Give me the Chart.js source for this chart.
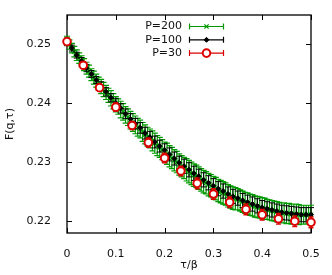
<!DOCTYPE html>
<html>
<head>
<meta charset="utf-8">
<script src="https://cdn.jsdelivr.net/npm/chart.js@4/dist/chart.umd.min.js"></script>
<style>
  html, body { margin: 0; padding: 0; background: #fff; }
</style>
</head>
<body>
<canvas id="c" width="332" height="275"></canvas>
<script>
const xTicks = [0, 0.1, 0.2, 0.3, 0.4, 0.5];
const xTickLabels = ['0', '0.1', '0.2', '0.3', '0.4', '0.5'];
const yTicks = [0.22, 0.23, 0.24, 0.25];
const yTickLabels = ['0.22', '0.23', '0.24', '0.25'];
const seriesNames = ['P=200', 'P=100', 'P=30'];

// P=200, tau/beta grid
const tau200 = [
  0, 0.005, 0.01, 0.015, 0.02, 0.025, 0.03, 0.035, 0.04, 0.045,
  0.05, 0.055, 0.06, 0.065, 0.07, 0.075, 0.08, 0.085, 0.09, 0.095,
  0.1, 0.105, 0.11, 0.115, 0.12, 0.125, 0.13, 0.135, 0.14, 0.145,
  0.15, 0.155, 0.16, 0.165, 0.17, 0.175, 0.18, 0.185, 0.19, 0.195,
  0.2, 0.205, 0.21, 0.215, 0.22, 0.225, 0.23, 0.235, 0.24, 0.245,
  0.25, 0.255, 0.26, 0.265, 0.27, 0.275, 0.28, 0.285, 0.29, 0.295,
  0.3, 0.305, 0.31, 0.315, 0.32, 0.325, 0.33, 0.335, 0.34, 0.345,
  0.35, 0.355, 0.36, 0.365, 0.37, 0.375, 0.38, 0.385, 0.39, 0.395,
  0.4, 0.405, 0.41, 0.415, 0.42, 0.425, 0.43, 0.435, 0.44, 0.445,
  0.45, 0.455, 0.46, 0.465, 0.47, 0.475, 0.48, 0.485, 0.49, 0.495,
  0.5
];
const f200 = [
  0.2505, 0.2499, 0.2493, 0.2487, 0.2481, 0.2476, 0.2471, 0.2465, 0.2459, 0.2454,
  0.2448, 0.2443, 0.2438, 0.2433, 0.2428, 0.2423, 0.2418, 0.2413, 0.2408, 0.2403,
  0.2398, 0.2394, 0.2389, 0.2385, 0.2380, 0.2376, 0.2371, 0.2367, 0.2363, 0.2359,
  0.2356, 0.2351, 0.2347, 0.2343, 0.2340, 0.2336, 0.2332, 0.2328, 0.2325, 0.2321,
  0.2317, 0.2314, 0.2310, 0.2307, 0.2303, 0.2300, 0.2296, 0.2293, 0.2290, 0.2287,
  0.2284, 0.2281, 0.2278, 0.2276, 0.2273, 0.2270, 0.2267, 0.2265, 0.2262, 0.2260,
  0.2257, 0.2255, 0.2252, 0.2250, 0.2248, 0.2246, 0.2243, 0.2241, 0.2239, 0.2238,
  0.2237, 0.2235, 0.2233, 0.2231, 0.2230, 0.2228, 0.2227, 0.2225, 0.2224, 0.2223,
  0.2222, 0.2221, 0.2220, 0.2219, 0.2218, 0.2217, 0.2216, 0.2215, 0.2214, 0.2214,
  0.2213, 0.2213, 0.2212, 0.2212, 0.2212, 0.2211, 0.2211, 0.2211, 0.2211, 0.2211,
  0.2211
];
const e200 = [
  0.0008, 0.0008, 0.0008, 0.0009, 0.0009, 0.0009, 0.0009, 0.0010, 0.0010, 0.0010,
  0.0010, 0.0011, 0.0011, 0.0011, 0.0012, 0.0012, 0.0012, 0.0012, 0.0013, 0.0013,
  0.0013, 0.0013, 0.0014, 0.0014, 0.0014, 0.0014, 0.0015, 0.0015, 0.0015, 0.0015,
  0.0015, 0.0016, 0.0016, 0.0016, 0.0016, 0.0017, 0.0017, 0.0017, 0.0017, 0.0017,
  0.0017, 0.0018, 0.0018, 0.0018, 0.0018, 0.0018, 0.0018, 0.0018, 0.0018, 0.0019,
  0.0019, 0.0019, 0.0019, 0.0019, 0.0019, 0.0019, 0.0019, 0.0019, 0.0019, 0.0019,
  0.0019, 0.0019, 0.0019, 0.0019, 0.0019, 0.0019, 0.0019, 0.0019, 0.0019, 0.0019,
  0.0018, 0.0018, 0.0018, 0.0018, 0.0018, 0.0018, 0.0018, 0.0018, 0.0018, 0.0018,
  0.0018, 0.0018, 0.0017, 0.0017, 0.0017, 0.0017, 0.0017, 0.0017, 0.0017, 0.0017,
  0.0017, 0.0017, 0.0017, 0.0017, 0.0017, 0.0017, 0.0016, 0.0016, 0.0016, 0.0016,
  0.0016
];

// P=100
const tau100 = [
  0, 0.01, 0.02, 0.03, 0.04, 0.05, 0.06, 0.07, 0.08, 0.09,
  0.1, 0.11, 0.12, 0.13, 0.14, 0.15, 0.16, 0.17, 0.18, 0.19,
  0.2, 0.21, 0.22, 0.23, 0.24, 0.25, 0.26, 0.27, 0.28, 0.29,
  0.3, 0.31, 0.32, 0.33, 0.34, 0.35, 0.36, 0.37, 0.38, 0.39,
  0.4, 0.41, 0.42, 0.43, 0.44, 0.45, 0.46, 0.47, 0.48, 0.49,
  0.5
];
const f100 = [
  0.2505, 0.2493, 0.2481, 0.2471, 0.2459, 0.2449, 0.2439, 0.2429, 0.2419, 0.2409,
  0.2400, 0.2391, 0.2382, 0.2373, 0.2365, 0.2358, 0.2349, 0.2342, 0.2334, 0.2327,
  0.2320, 0.2313, 0.2306, 0.2299, 0.2293, 0.2287, 0.2281, 0.2276, 0.2270, 0.2265,
  0.2260, 0.2255, 0.2251, 0.2246, 0.2242, 0.2239, 0.2235, 0.2232, 0.2229, 0.2226,
  0.2223, 0.2221, 0.2219, 0.2217, 0.2215, 0.2214, 0.2213, 0.2212, 0.2211, 0.2211,
  0.2211
];
const e100 = [
  0.0005, 0.0005, 0.0005, 0.0006, 0.0006, 0.0006, 0.0006, 0.0007, 0.0007, 0.0007,
  0.0008, 0.0008, 0.0008, 0.0009, 0.0009, 0.0009, 0.0010, 0.0010, 0.0010, 0.0010,
  0.0011, 0.0011, 0.0011, 0.0011, 0.0012, 0.0012, 0.0012, 0.0012, 0.0012, 0.0012,
  0.0012, 0.0012, 0.0012, 0.0012, 0.0012, 0.0012, 0.0012, 0.0012, 0.0012, 0.0012,
  0.0012, 0.0012, 0.0012, 0.0012, 0.0012, 0.0012, 0.0012, 0.0012, 0.0012, 0.0012,
  0.0012
];

// P=30
const tau30 = [0, 0.0333, 0.0667, 0.1, 0.1333, 0.1667, 0.2, 0.2333, 0.2667, 0.3, 0.3333, 0.3667, 0.4, 0.4333, 0.4667, 0.5];
const f30 = [0.2504, 0.2464, 0.2426, 0.2393, 0.2362, 0.2333, 0.2307, 0.2285, 0.2264, 0.2246, 0.2232, 0.2220, 0.2211, 0.2204, 0.2200, 0.2198];
const e30 = [0.0005, 0.0006, 0.0006, 0.0007, 0.0007, 0.0008, 0.0008, 0.0008, 0.0009, 0.0009, 0.0009, 0.0009, 0.0009, 0.0009, 0.0009, 0.0009];

const FONT = { family: 'DejaVu Sans', size: 11 };
const GREEN = '#009a00', BLACK = '#000000', RED = '#dd0000';

const pts = (xs, ys, es) => xs.map((x, i) => ({ x, y: ys[i], e: es[i] }));

// error bars drawn just before each dataset's markers
const errorBars = {
  id: 'errorBars',
  beforeDatasetDraw(chart, args) {
    const ds = chart.data.datasets[args.index];
    const { ctx, scales: { x, y } } = chart;
    const cap = ds.capWidth;
    ctx.save();
    ctx.strokeStyle = ds.borderColor;
    ctx.lineWidth = ds.errWidth;
    ctx.beginPath();
    ds.data.forEach(p => {
      const px = x.getPixelForValue(p.x);
      const y1 = y.getPixelForValue(p.y - p.e), y2 = y.getPixelForValue(p.y + p.e);
      ctx.moveTo(px, y1); ctx.lineTo(px, y2);
      ctx.moveTo(px - cap, y1); ctx.lineTo(px + cap, y1);
      ctx.moveTo(px - cap, y2); ctx.lineTo(px + cap, y2);
    });
    ctx.stroke();
    ctx.restore();
  }
};

// box frame + inward ticks on all sides
const frame = {
  id: 'frame',
  beforeDatasetsDraw(chart) {
    const { ctx, chartArea: { left, right, top, bottom }, scales: { x, y } } = chart;
    ctx.save();
    ctx.strokeStyle = '#000';
    ctx.lineWidth = 1.3;
    ctx.strokeRect(left, top, right - left, bottom - top);
    ctx.lineWidth = 1;
    ctx.beginPath();
    xTicks.forEach(v => {
      const px = Math.round(x.getPixelForValue(v)) + 0.5;
      ctx.moveTo(px, bottom); ctx.lineTo(px, bottom - 5);
      ctx.moveTo(px, top); ctx.lineTo(px, top + 5);
    });
    yTicks.forEach(v => {
      const py = Math.round(y.getPixelForValue(v)) + 0.5;
      ctx.moveTo(left, py); ctx.lineTo(left + 5, py);
      ctx.moveTo(right, py); ctx.lineTo(right - 5, py);
    });
    ctx.stroke();
    ctx.restore();
  }
};

// gnuplot-style key in the top middle
const key = {
  id: 'key',
  afterDraw(chart) {
    const { ctx, chartArea: { top } } = chart;
    const sets = [chart.data.datasets[2], chart.data.datasets[1], chart.data.datasets[0]];
    ctx.save();
    ctx.font = '11px "DejaVu Sans"';
    ctx.textAlign = 'right';
    ctx.textBaseline = 'middle';
    sets.forEach((ds, i) => {
      const ly = top + 11.5 + i * 13.3;
      ctx.fillStyle = '#111';
      ctx.fillText(seriesNames[i], 182, ly);
      ctx.strokeStyle = ds.borderColor;
      ctx.lineWidth = 1.2;
      ctx.beginPath();
      ctx.moveTo(189, ly); ctx.lineTo(224, ly);
      ctx.moveTo(189.5, ly - 3); ctx.lineTo(189.5, ly + 3);
      ctx.moveTo(223.5, ly - 3); ctx.lineTo(223.5, ly + 3);
      ctx.stroke();
      ctx.fillStyle = ds.pointBackgroundColor;
      ctx.lineWidth = ds.pointBorderWidth;
      Chart.helpers.drawPoint(ctx, { pointStyle: ds.pointStyle, radius: ds.pointRadius, borderWidth: ds.pointBorderWidth, rotation: 0 }, 206.5, ly);
    });
    ctx.restore();
  }
};

new Chart(document.getElementById('c'), {
  type: 'scatter',
  data: {
    datasets: [
      {
        label: seriesNames[2], data: pts(tau30, f30, e30), order: 1, clip: false, capWidth: 2.5, errWidth: 1.4,
        borderColor: RED, pointBackgroundColor: '#fff', pointBorderColor: RED,
        pointStyle: 'circle', pointRadius: 3.8, pointBorderWidth: 2
      },
      {
        label: seriesNames[1], data: pts(tau100, f100, e100), order: 2, clip: false, capWidth: 3, errWidth: 1,
        borderColor: BLACK, pointBackgroundColor: BLACK, pointBorderColor: BLACK,
        pointStyle: 'rectRot', pointRadius: 2.5, pointBorderWidth: 1
      },
      {
        label: seriesNames[0], data: pts(tau200, f200, e200), order: 3, clip: false, capWidth: 3, errWidth: 1.2,
        borderColor: GREEN, pointBackgroundColor: GREEN, pointBorderColor: GREEN,
        pointStyle: 'crossRot', pointRadius: 3, pointBorderWidth: 1.2
      }
    ]
  },
  options: {
    responsive: false,
    animation: false,
    devicePixelRatio: 1,
    layout: { padding: { left: 0, top: 15, right: 21, bottom: 0 } },
    plugins: { legend: { display: false }, tooltip: { enabled: false } },
    scales: {
      x: {
        type: 'linear', min: 0, max: 0.5,
        afterBuildTicks: s => { s.ticks = xTicks.map(v => ({ value: v })); },
        afterFit: s => { s.height = 42; },
        ticks: { callback: (v, i) => xTickLabels[i], padding: 7, font: FONT, color: '#111', maxRotation: 0, autoSkip: false },
        grid: { display: false },
        border: { display: false },
        title: { display: true, text: 'τ/β', font: FONT, color: '#111', padding: { top: 0, bottom: 3 } }
      },
      y: {
        type: 'linear', min: 0.218, max: 0.2549,
        afterBuildTicks: s => { s.ticks = yTicks.map(v => ({ value: v })); },
        afterFit: s => { s.width = 67; },
        ticks: { callback: (v, i) => yTickLabels[i], padding: 8, font: FONT, color: '#111', autoSkip: false },
        grid: { display: false },
        border: { display: false },
        title: { display: true, text: 'F(q,τ)', font: FONT, color: '#111', padding: { top: 4, bottom: 0 } }
      }
    }
  },
  plugins: [errorBars, frame, key]
});
</script>
</body>
</html>
